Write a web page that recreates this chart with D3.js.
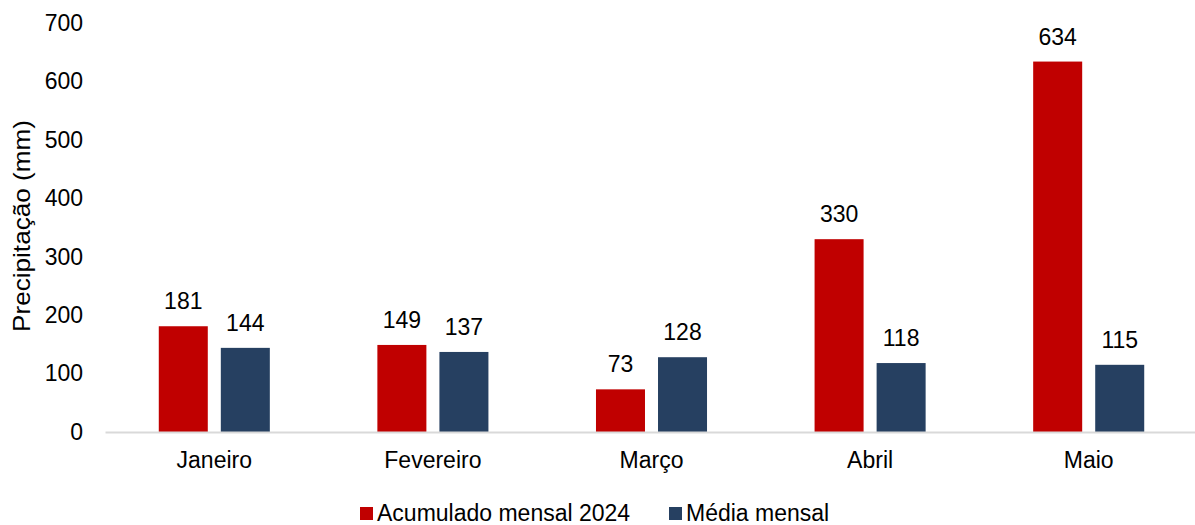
<!DOCTYPE html>
<html>
<head>
<meta charset="utf-8">
<script src="https://cdn.jsdelivr.net/npm/d3@7"></script>
<style>
  body { margin: 0; background: #fff; }
  text { font-family: Arial, "Liberation Sans", sans-serif; fill: #000; }
</style>
</head>
<body>
<svg id="chart" width="1195" height="525"></svg>
<script>
var months = ["Janeiro", "Fevereiro", "Março", "Abril", "Maio"];
var seriesNames = ["Acumulado mensal 2024", "Média mensal"];
var acumulado = [181, 149, 73, 330, 634];
var media = [144, 137, 128, 118, 115];
var yTicks = [0, 100, 200, 300, 400, 500, 600, 700];
var colors = ["#c00000", "#264061"];

var svg = d3.select("#chart"),
    plotLeft = 105, plotRight = 1198, plotTop = 23, plotBottom = 432,
    fs = "23px";

var x0 = d3.scaleBand()
    .domain(months)
    .range([plotLeft, plotRight])
    .paddingInner(0.492)
    .paddingOuter(0.246);

var x1 = d3.scaleBand()
    .domain(seriesNames)
    .range([0, x0.bandwidth()])
    .paddingInner(0.21);

var y = d3.scaleLinear()
    .domain([0, 700])
    .range([plotBottom, plotTop]);

var data = months.map(function(m, i) {
    return {month: m, values: [acumulado[i], media[i]]};
});

// Y axis labels (no line)
var yAxis = svg.append("g")
    .attr("transform", "translate(" + (plotLeft - 12) + ",0)")
    .call(d3.axisLeft(y).tickValues(yTicks).tickSize(0).tickPadding(10));
yAxis.select(".domain").remove();
yAxis.selectAll("text")
    .style("font-size", fs)
    .attr("fill", "#000");

// Y axis title
svg.append("text")
    .attr("transform", "translate(30,226) rotate(-90)")
    .attr("text-anchor", "middle")
    .attr("textLength", 212)
    .attr("lengthAdjust", "spacingAndGlyphs")
    .style("font-size", "24px")
    .text("Precipitação (mm)");

// Bars
var groups = svg.selectAll(".grp")
    .data(data)
    .enter().append("g")
    .attr("class", "grp")
    .attr("transform", function(d) { return "translate(" + x0(d.month) + ",0)"; });

groups.selectAll("rect")
    .data(function(d) { return d.values.map(function(v, j) { return {s: seriesNames[j], v: v, j: j}; }); })
    .enter().append("rect")
    .attr("x", function(d) { return x1(d.s); })
    .attr("y", function(d) { return y(d.v); })
    .attr("width", x1.bandwidth())
    .attr("height", function(d) { return y(0) - y(d.v); })
    .attr("fill", function(d) { return colors[d.j]; });

groups.selectAll(".lbl")
    .data(function(d) { return d.values.map(function(v, j) { return {s: seriesNames[j], v: v}; }); })
    .enter().append("text")
    .attr("class", "lbl")
    .attr("x", function(d) { return x1(d.s) + x1.bandwidth() / 2; })
    .attr("y", function(d) { return y(d.v) - 17; })
    .attr("text-anchor", "middle")
    .style("font-size", fs)
    .text(function(d) { return d.v; });

// X axis
var xAxis = svg.append("g")
    .attr("transform", "translate(0," + plotBottom + ")")
    .call(d3.axisBottom(x0).tickSize(0).tickPadding(20));
xAxis.select(".domain")
    .attr("stroke", "#d9d9d9")
    .attr("stroke-width", 2);
xAxis.selectAll("text")
    .style("font-size", fs)
    .attr("fill", "#000");

// Legend
var legend = svg.append("g");
var legendX = [360, 669];
seriesNames.forEach(function(name, j) {
    legend.append("rect")
        .attr("x", legendX[j])
        .attr("y", 507)
        .attr("width", 13)
        .attr("height", 13)
        .attr("fill", colors[j]);
    legend.append("text")
        .attr("x", legendX[j] + 17)
        .attr("y", 521)
        .style("font-size", fs)
        .text(name);
});
</script>
</body>
</html>
